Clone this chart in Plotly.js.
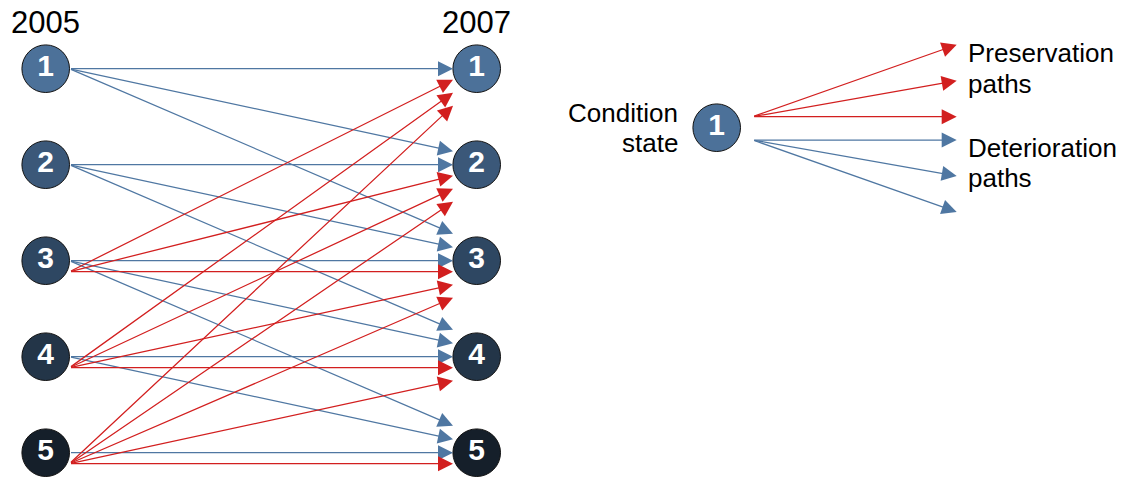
<!DOCTYPE html>
<html>
<head>
<meta charset="utf-8">
<script src="https://cdn.plot.ly/plotly-3.0.1.min.js"></script>
<style>html,body{margin:0;padding:0;background:#fff;}#chart{width:1123px;height:478px;}</style>
</head>
<body>
<div id="chart"></div>
<script>
// ---- data ----
const states = [1, 2, 3, 4, 5];
const yearLabels = ['2005', '2007'];
const deteriorationFrom = [1, 1, 1, 2, 2, 2, 3, 3, 3, 4, 4, 5];
const deteriorationTo   = [1, 2, 3, 2, 3, 4, 3, 4, 5, 4, 5, 5];
const preservationFrom  = [3, 3, 3, 4, 4, 4, 4, 5, 5, 5, 5, 5];
const preservationTo    = [1, 2, 3, 1, 2, 3, 4, 1, 2, 3, 4, 5];
const legendState = 1;
const legendStateLabel = ['Condition', 'state'];
const legendPreservationPaths = 3;
const legendDeteriorationPaths = 3;
const preservationLabel = ['Preservation', 'paths'];
const deteriorationLabel = ['Deterioration', 'paths'];

// ---- styles / layout constants ----
const stateColors = ['#4c7199', '#3b5879', '#2e4762', '#233548', '#151f2a'];
const blue = '#4f77a2';
const red = '#d21f1f';
const font = 'Liberation Sans, Arial, sans-serif';
const xLeft = 45.7, xRight = 476.7;
const yTop = 68.7, ySpacing = 96;
const nodeR = 23.8;
const tailX = xLeft + nodeR, tipX = 453;
const yOf = s => yTop + (s - 1) * ySpacing;

const annotations = [];
function arrow(x0, y0, x1, y1, color) {
  annotations.push({
    x: x1, y: y1, ax: x0, ay: y0, xref: 'x', yref: 'y', axref: 'x', ayref: 'y',
    text: '', showarrow: true, arrowhead: 2, arrowsize: 2.4, arrowwidth: 1.25,
    arrowcolor: color, standoff: 0, startstandoff: 0
  });
}
function label(text, x, y, xanchor, size) {
  annotations.push({
    x: x, y: y, xref: 'x', yref: 'y', text: text, showarrow: false,
    xanchor: xanchor, yanchor: 'middle', font: {family: font, size: size, color: '#000'}
  });
}

// deterioration arrows (blue)
for (let k = 0; k < deteriorationFrom.length; k++) {
  const i = deteriorationFrom[k], j = deteriorationTo[k];
  arrow(tailX, yOf(i), tipX, yOf(j) - 13.5 * (j - i), blue);
}
// preservation arrows (red)
for (let k = 0; k < preservationFrom.length; k++) {
  const i = preservationFrom[k], j = preservationTo[k];
  arrow(tailX, yOf(i) + 11, tipX, yOf(j) + 11 + 13 * (i - Math.max(j, 3)), red);
}

// legend diagram
const lx = 716.7, ly = 127.7;
for (let k = 0; k < legendPreservationPaths; k++) {
  arrow(lx + 36, ly - 11, 956.7, ly - 11 - 36 * (legendPreservationPaths - 1 - k), red);
}
for (let k = 0; k < legendDeteriorationPaths; k++) {
  arrow(lx + 36, ly + 12.3, 956.7, ly + 12.3 + 36 * k, blue);
}

// texts
label(yearLabels[0], xLeft, 22, 'center', 31);
label(yearLabels[1], xRight, 22, 'center', 31);
label(legendStateLabel[0], 680, 112.5, 'right', 26);
label(legendStateLabel[1], 680, 143, 'right', 26);
label(preservationLabel[0], 966, 52.5, 'left', 26);
label(preservationLabel[1], 966, 84, 'left', 26);
label(deteriorationLabel[0], 966, 147.5, 'left', 26);
label(deteriorationLabel[1], 966, 178, 'left', 26);

// nodes
const nodeX = [], nodeY = [], nodeText = [], nodeColor = [];
states.forEach((s, idx) => {
  [xLeft, xRight].forEach(x => {
    nodeX.push(x); nodeY.push(yOf(s)); nodeText.push('<b>' + s + '</b>'); nodeColor.push(stateColors[idx]);
  });
});
nodeX.push(lx); nodeY.push(ly); nodeText.push('<b>' + legendState + '</b>'); nodeColor.push(stateColors[legendState - 1]);

const trace = {
  x: nodeX, y: nodeY, text: nodeText, mode: 'markers+text', type: 'scatter',
  textposition: 'middle center', hoverinfo: 'skip',
  textfont: {family: font, size: 30, color: '#fff'},
  marker: {size: 2 * nodeR, color: nodeColor, line: {color: '#111', width: 1}}
};

const layout = {
  width: 1123, height: 478, margin: {l: 0, r: 0, t: 0, b: 0},
  paper_bgcolor: '#fff', plot_bgcolor: '#fff', showlegend: false,
  xaxis: {range: [0, 1123], visible: false, fixedrange: true},
  yaxis: {range: [478, 0], visible: false, fixedrange: true},
  annotations: annotations
};

Plotly.newPlot('chart', [trace], layout, {displayModeBar: false, staticPlot: true});
</script>
</body>
</html>
